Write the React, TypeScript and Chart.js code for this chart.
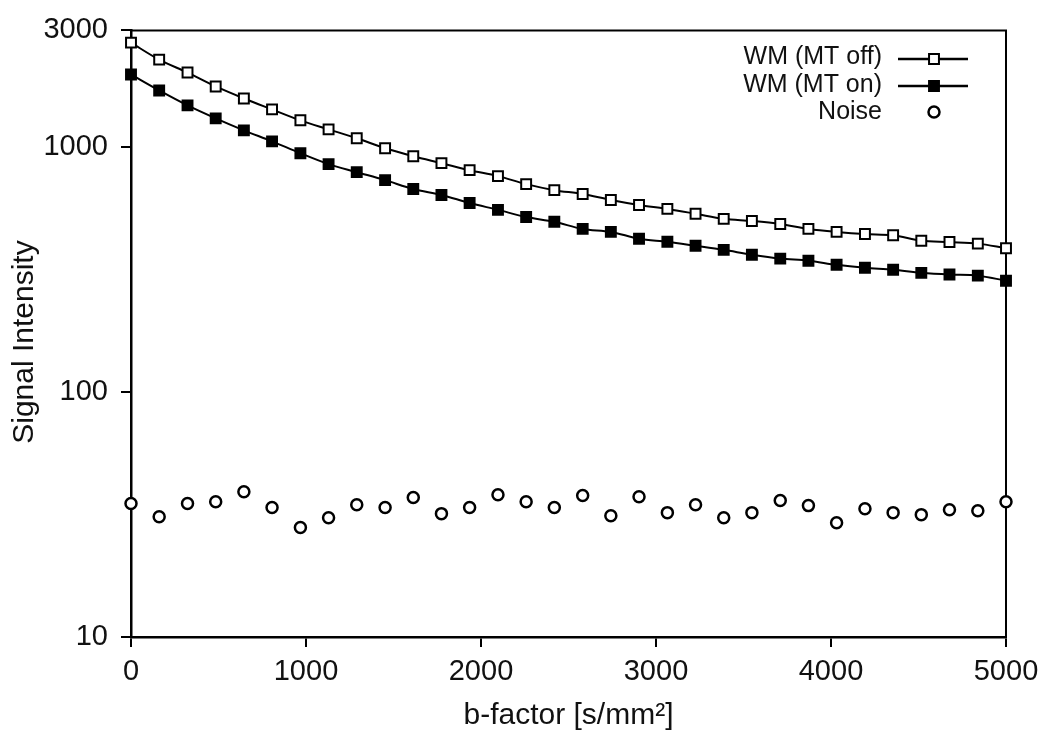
import React, { useRef, useEffect } from "react";
import { Chart, registerables } from "chart.js";
import { drawPoint } from "chart.js/helpers";

Chart.register(...registerables);

const FONT = "'Liberation Sans', Arial, Helvetica, sans-serif";

// b-factor values (s/mm^2)
const bValues = [
  0, 161, 323, 484, 645, 806, 968, 1129, 1290, 1452, 1613, 1774, 1935, 2097,
  2258, 2419, 2581, 2742, 2903, 3065, 3226, 3387, 3548, 3710, 3871, 4032,
  4194, 4355, 4516, 4677, 4839, 5000,
];

const mtOff = [
  2673, 2279, 2018, 1771, 1582, 1427, 1288, 1183, 1088, 990, 919, 861, 806,
  762, 707, 668, 644, 609, 581, 560, 535, 510, 500, 486, 464, 451, 442, 437,
  415, 410, 404, 387,
];

const mtOn = [
  1982, 1706, 1482, 1312, 1172, 1057, 945, 853, 791, 734, 675, 638, 592, 555,
  519, 496, 464, 451, 423, 411, 396, 381, 364, 351, 344, 331, 322, 316, 307,
  302, 299, 285,
];

const noise = [
  35.1, 31.0, 35.1, 35.7, 39.2, 33.8, 28.0, 30.7, 34.7, 33.8, 37.1, 31.9, 33.8,
  38.1, 35.7, 33.8, 37.8, 31.3, 37.4, 32.2, 34.7, 30.7, 32.2, 36.1, 34.4, 29.3,
  33.4, 32.2, 31.6, 33.1, 32.8, 35.7,
];

const seriesLabels = ["WM (MT off)", "WM (MT on)", "Noise"];
const yTicks = [10, 100, 1000, 3000];
const xTitle = "b-factor [s/mm²]";
// trailing spaces nudge the rotated title a little lower, like the original
const yTitle = "Signal Intensity  ";

const toPoints = (ys: number[]) => ys.map((y, i) => ({ x: bValues[i], y }));

// top and right edges of the plot box
const framePlugin = {
  id: "frame",
  beforeDatasetsDraw(chart: any) {
    const { ctx, chartArea } = chart;
    ctx.save();
    ctx.strokeStyle = "#000";
    ctx.lineWidth = 2;
    ctx.beginPath();
    ctx.moveTo(chartArea.left, chartArea.top);
    ctx.lineTo(chartArea.right, chartArea.top);
    ctx.lineTo(chartArea.right, chartArea.bottom);
    ctx.stroke();
    ctx.restore();
  },
};

// legend: text right aligned, sample line + marker on the right
const legendPlugin = {
  id: "sideLegend",
  afterDraw(chart: any) {
    const ctx = chart.ctx;
    const textRows = [57, 85, 112];
    const markRows = [59, 86, 112];
    ctx.save();
    ctx.font = `25px ${FONT}`;
    ctx.textAlign = "right";
    ctx.textBaseline = "middle";
    chart.data.datasets.forEach((ds: any, i: number) => {
      ctx.fillStyle = "#111";
      ctx.fillText(ds.label, 882, textRows[i]);
      const y = markRows[i];
      if (ds.showLine !== false) {
        ctx.strokeStyle = "#000";
        ctx.lineWidth = 2.5;
        ctx.beginPath();
        ctx.moveTo(898, y);
        ctx.lineTo(968, y);
        ctx.stroke();
      }
      ctx.fillStyle = ds.pointBackgroundColor;
      ctx.strokeStyle = ds.pointBorderColor;
      ctx.lineWidth = ds.pointBorderWidth;
      drawPoint(
        ctx,
        {
          pointStyle: ds.pointStyle,
          radius: ds.pointRadius,
          borderWidth: ds.pointBorderWidth,
          rotation: 0,
        } as any,
        934,
        y
      );
    });
    ctx.restore();
  },
};

const App = () => {
  const chartRef = useRef<HTMLCanvasElement | null>(null);
  const chartInstanceRef = useRef<Chart | null>(null);

  useEffect(() => {
    if (chartInstanceRef.current) {
      chartInstanceRef.current.destroy();
    }
    const ctx = chartRef.current?.getContext("2d");
    if (!ctx) return;

    Chart.defaults.font.family = FONT;
    Chart.defaults.color = "#111";

    const axisGrid = {
      display: true,
      drawOnChartArea: false,
      drawTicks: true,
      tickLength: 10,
      color: "#000",
      lineWidth: 2,
    };

    chartInstanceRef.current = new Chart(ctx, {
      type: "line",
      data: {
        datasets: [
          {
            label: seriesLabels[0],
            data: toPoints(mtOff),
            borderColor: "#000",
            borderWidth: 2,
            pointStyle: "rect",
            pointRadius: 7,
            pointBorderWidth: 2,
            pointBackgroundColor: "#fff",
            pointBorderColor: "#000",
            cubicInterpolationMode: "monotone",
            clip: false,
          },
          {
            label: seriesLabels[1],
            data: toPoints(mtOn),
            borderColor: "#000",
            borderWidth: 2,
            pointStyle: "rect",
            pointRadius: 7,
            pointBorderWidth: 2,
            pointBackgroundColor: "#000",
            pointBorderColor: "#000",
            cubicInterpolationMode: "monotone",
            clip: false,
          },
          {
            label: seriesLabels[2],
            data: toPoints(noise),
            showLine: false,
            pointStyle: "circle",
            pointRadius: 5.5,
            pointBorderWidth: 2.5,
            pointBackgroundColor: "#fff",
            pointBorderColor: "#000",
            clip: false,
          },
        ],
      },
      options: {
        animation: false,
        responsive: false,
        layout: { padding: { top: 26, right: 44, left: 0, bottom: 0 } },
        plugins: {
          legend: { display: false },
          tooltip: { enabled: false },
        },
        scales: {
          x: {
            type: "linear",
            min: 0,
            max: 5000,
            ticks: {
              stepSize: 1000,
              callback: (v: any) => String(v),
              font: { size: 29 },
              padding: 8,
              color: "#111",
            },
            grid: axisGrid,
            border: { display: true, color: "#000", width: 2.5 },
            title: {
              display: true,
              text: xTitle,
              font: { size: 30 },
              color: "#111",
              padding: { top: 0, bottom: 12 },
            },
            afterFit: (s: any) => {
              s.height = 109;
            },
          },
          y: {
            type: "logarithmic",
            min: 10,
            max: 3000,
            afterBuildTicks: (s: any) => {
              s.ticks = yTicks.map((v) => ({ value: v }));
            },
            ticks: {
              callback: (v: any) => String(v),
              font: { size: 29 },
              padding: 13,
              color: "#111",
            },
            grid: axisGrid,
            border: { display: true, color: "#000", width: 2.5 },
            title: {
              display: true,
              text: yTitle,
              font: { size: 30 },
              color: "#111",
              padding: { top: 7, bottom: 0 },
            },
            afterFit: (s: any) => {
              s.width = 131;
            },
          },
        },
      },
      plugins: [framePlugin, legendPlugin],
    } as any);

    return () => {
      if (chartInstanceRef.current) {
        chartInstanceRef.current.destroy();
        chartInstanceRef.current = null;
      }
    };
  }, []);

  return (
    <div style={{ position: "absolute", left: 0, top: 0, width: 1050, height: 746, background: "#fff" }}>
      <canvas ref={chartRef} width={1050} height={746} style={{ width: 1050, height: 746 }} />
    </div>
  );
};

export default App;
